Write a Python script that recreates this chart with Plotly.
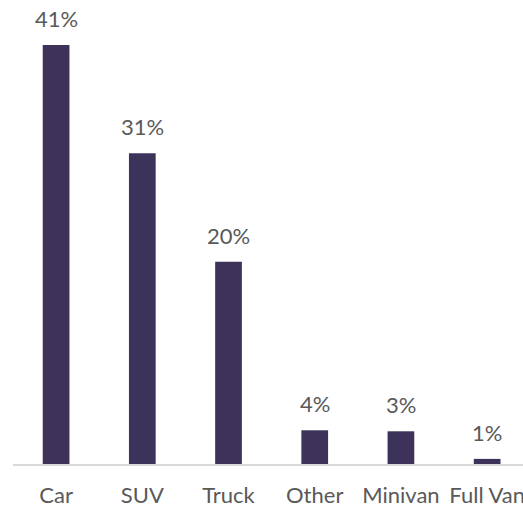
import plotly.graph_objects as go

categories = ["Car", "SUV", "Truck", "Other", "Minivan", "Full Van"]
values = [41.0, 30.4, 19.8, 3.3, 3.2, 0.5]
labels = ["41%", "31%", "20%", "4%", "3%", "1%"]

bar_color = "#3D3259"
text_color = "#595959"
font_family = "Lato, Calibri, Carlito, sans-serif"
font_size = 22

fig = go.Figure()
fig.add_trace(go.Bar(
    x=categories,
    y=values,
    width=0.31,
    marker=dict(color=bar_color, line=dict(width=0)),
    hoverinfo="skip",
))

for c, v, t in zip(categories, values, labels):
    fig.add_annotation(
        x=c, y=v, text=t, showarrow=False,
        xanchor="center", yanchor="bottom", yshift=11,
        font=dict(family=font_family, size=font_size, color=text_color),
    )

fig.update_layout(
    width=523,
    height=505,
    margin=dict(l=13, r=0, t=0, b=41, autoexpand=False),
    paper_bgcolor="white",
    plot_bgcolor="white",
    showlegend=False,
    font=dict(family=font_family, size=font_size, color=text_color),
)
fig.update_xaxes(
    type="category",
    range=[-0.5, 5.416],
    showline=True,
    linecolor="#D9D9D9",
    linewidth=1.5,
    showgrid=False,
    zeroline=False,
    ticks="",
    automargin=False,
    ticklabelstandoff=11,
    tickfont=dict(family=font_family, size=font_size, color=text_color),
)
fig.update_yaxes(
    range=[0, 45.4],
    visible=False,
    showgrid=False,
    zeroline=False,
)

fig.write_html(
    "out.html",
    config={"displayModeBar": False},
    post_script="document.body.style.margin='0';document.body.style.overflow='hidden';",
)
